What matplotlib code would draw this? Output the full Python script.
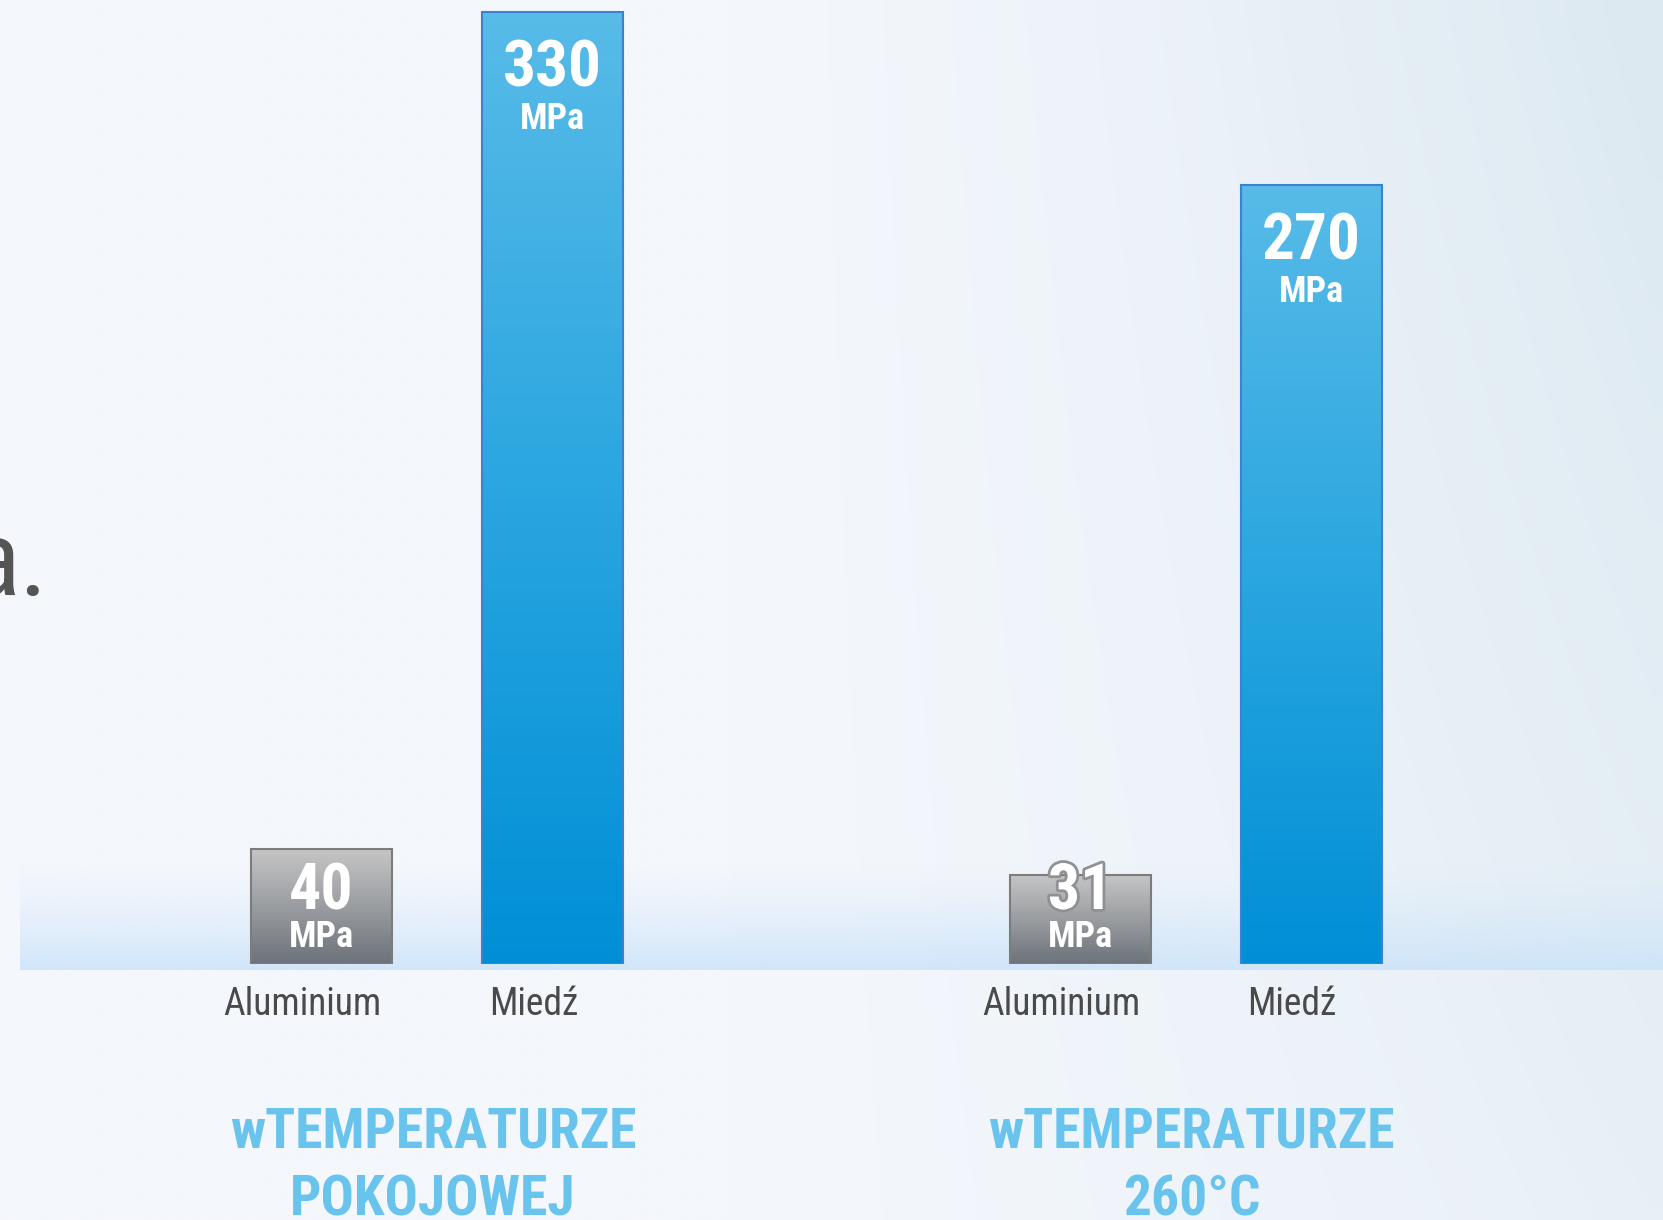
import numpy as np
import matplotlib
matplotlib.use('Agg')
import matplotlib.pyplot as plt
import matplotlib.patheffects as pe
from matplotlib import font_manager
from matplotlib.colors import LinearSegmentedColormap

# data
group_line1 = ['wTEMPERATURZE', 'wTEMPERATURZE']
group_line2 = ['POKOJOWEJ', '260°C']
materials = ['Aluminium', 'Miedź']
values = [[40, 330], [31, 270]]
unit = 'MPa'

# pick a narrow font if there is one
names = set(f.name for f in font_manager.fontManager.ttflist)
font = 'Liberation Sans'
for cand in ['Liberation Sans Narrow', 'Roboto Condensed', 'Open Sans Condensed']:
    if cand in names:
        font = cand
        break

W, H = 1663, 1220
fig = plt.figure(figsize=(W / 100, H / 100), dpi=100)

# background gradient + light band above the base line
bg = fig.add_axes([0, 0, 1, 1], zorder=-1)
bg.axis('off')
yy, xx = np.mgrid[0:1:61j, 0:1:83j]
t = np.clip((xx - 0.45) / 0.55, 0, 1) ** 1.3 * (1 - 0.5 * yy)
c0 = np.array([244, 247, 252]) / 255
c1 = np.array([220, 233, 241]) / 255
img = c0 + t[..., None] * (c1 - c0)
bg.imshow(img, extent=[0, W, H, 0], aspect='auto', interpolation='bilinear')
band = np.zeros((50, 2, 4))
band[..., :3] = np.array([200, 226, 250]) / 255
band[..., 3] = np.linspace(0, 0.85, 50)[:, None] ** 1.4
bg.imshow(band, extent=[20, W, 970, 862], aspect='auto', interpolation='bilinear')
bg.set_xlim(0, W)
bg.set_ylim(H, 0)

ax = fig.add_axes([20 / W, (H - 964) / H, (W - 20) / W, 964 / H])
ax.patch.set_alpha(0)
for s in ax.spines.values():
    s.set_visible(False)
ax.set_xticks([])
ax.set_yticks([])

group_pos = [0, 3.284]
offsets = [-0.5, 0.5]
width = 0.61
blue_cm = LinearSegmentedColormap.from_list('b', ['#008fd6', '#2aa6e0', '#58bbe8'])
grey_cm = LinearSegmentedColormap.from_list('g', ['#6c727a', '#9a9da1', '#c6c6c6'])
grad = np.linspace(1, 0, 256)[:, None]

ax.set_xlim(-1.805, 5.307)
ax.set_ylim(0, 334.2)

for g in range(len(group_pos)):
    xs = [group_pos[g] + o for o in offsets]
    vals = values[g]
    edges = ['#7c7c7c', '#3b82d0']
    bars = ax.bar(xs, vals, width, facecolor='none', edgecolor=edges, linewidth=1.5, zorder=3)
    for i, b in enumerate(bars):
        cm = grey_cm if i == 0 else blue_cm
        im = ax.imshow(grad, extent=[b.get_x(), b.get_x() + b.get_width(), 0, b.get_height()],
                       aspect='auto', cmap=cm, zorder=2)
        im.set_clip_path(b)
        xc = b.get_x() + b.get_width() / 2
        v = vals[i]
        if i == 0:
            # grey bars: labels sit on the base
            bar_px = ax.transData.transform((0, v))[1] - ax.transData.transform((0, 0))[1]
            eff = None
            if bar_px < 101:
                eff = [pe.withStroke(linewidth=4, foreground='#8f9194')]
            ax.annotate(str(v), (xc, 0), xytext=(0, 55 * 0.72), textcoords='offset points',
                        ha='center', va='baseline', fontsize=46, fontweight='bold',
                        color='white', family=font, zorder=5, path_effects=eff)
            ax.annotate(unit, (xc, 0), xytext=(0, 17 * 0.72), textcoords='offset points',
                        ha='center', va='baseline', fontsize=26, fontweight='bold',
                        color='white', family=font, zorder=5)
        else:
            ax.annotate(str(v), (xc, v), xytext=(0, -74 * 0.72), textcoords='offset points',
                        ha='center', va='baseline', fontsize=47, fontweight='bold',
                        color='white', family=font, zorder=5)
            ax.annotate(unit, (xc, v), xytext=(0, -117 * 0.72), textcoords='offset points',
                        ha='center', va='baseline', fontsize=26, fontweight='bold',
                        color='white', family=font, zorder=5)
        ax.annotate(materials[i], (xc, 0), xytext=(-19 * 0.72, -51 * 0.72),
                    textcoords='offset points', ha='center', va='baseline',
                    fontsize=27, color='#4a4a4a', family=font, annotation_clip=False)
    ax.annotate(group_line1[g], (group_pos[g], 0), xytext=(-4 * 0.72, -184 * 0.72),
                textcoords='offset points', ha='center', va='baseline', fontsize=40,
                fontweight='bold', color='#68c3ed', family=font, annotation_clip=False)
    ax.annotate(group_line2[g], (group_pos[g], 0), xytext=(-4 * 0.72, -251 * 0.72),
                textcoords='offset points', ha='center', va='baseline', fontsize=40,
                fontweight='bold', color='#68c3ed', family=font, annotation_clip=False)

ax.set_xlim(-1.805, 5.307)
ax.set_ylim(0, 334.2)

# cut-off text from the left side of the slide
fig.text(47 / W, 1 - 595 / H, 'a.', ha='right', va='baseline', fontsize=76,
         color='#555555', family=font)

fig.savefig('out.png', dpi=100)
